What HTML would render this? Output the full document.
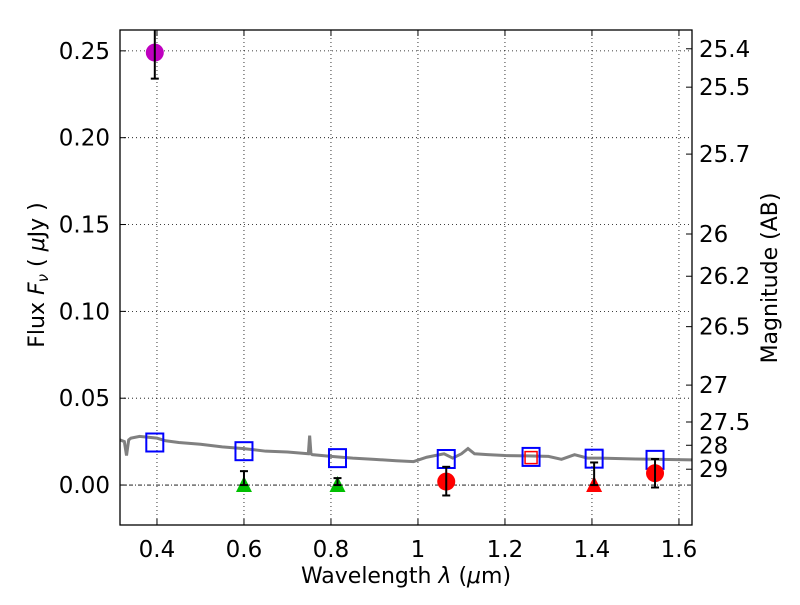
<!DOCTYPE html>
<html><head><meta charset="utf-8"><style>
body{margin:0;background:#fff;}
svg text{font-family:"DejaVu Sans","Liberation Sans",sans-serif;fill:#000;}
</style></head><body>
<svg id="chart" width="800" height="600" xmlns="http://www.w3.org/2000/svg">
<defs><clipPath id="pc"><rect x="120" y="30" width="572" height="495"/></clipPath></defs>
<rect width="800" height="600" fill="#fff"/>
<g id="grid"></g>
<g id="series" clip-path="url(#pc)"></g>
<g id="axes"></g>
<text x="406" y="583" font-size="22" text-anchor="middle">Wavelength  <tspan font-style="italic">λ</tspan> (<tspan font-style="italic">μ</tspan>m)</text>
<text transform="translate(44,275) rotate(-90)" font-size="22" text-anchor="middle">Flux  <tspan font-style="italic">F</tspan><tspan font-style="italic" font-size="15" dy="4">ν</tspan><tspan dy="-4">  ( </tspan><tspan font-style="italic">μ</tspan>Jy )</text>
<text transform="translate(777,278) rotate(-90)" font-size="22" text-anchor="middle">Magnitude (AB)</text>
</svg>
<script>
const xTicks=[0.4,0.6,0.8,1.0,1.2,1.4,1.6];
const xTickLabels=["0.4","0.6","0.8","1","1.2","1.4","1.6"];
const yTicks=[0,0.05,0.10,0.15,0.20,0.25];
const yTickLabels=["0.00","0.05","0.10","0.15","0.20","0.25"];
const magTicks=[25.4,25.5,25.7,26,26.2,26.5,27,27.5,28,29];
const magTickLabels=["25.4","25.5","25.7","26","26.2","26.5","27","27.5","28","29"];
const specWave=[0.315,0.325,0.33,0.335,0.34,0.36,0.38,0.40,0.42,0.45,0.5,0.55,0.6,0.65,0.7,0.748,0.751,0.754,0.757,0.8,0.85,0.9,0.95,0.99,1.02,1.04,1.06,1.08,1.1,1.115,1.13,1.16,1.2,1.25,1.3,1.33,1.36,1.39,1.42,1.5,1.56,1.63];
const specFlux=[0.026,0.025,0.017,0.026,0.027,0.028,0.0275,0.027,0.0255,0.0245,0.0235,0.022,0.021,0.0195,0.019,0.018,0.0285,0.018,0.0175,0.0165,0.0155,0.0148,0.014,0.0135,0.016,0.017,0.018,0.0155,0.018,0.021,0.018,0.0175,0.017,0.0168,0.0165,0.0148,0.0175,0.0155,0.0155,0.015,0.0148,0.0145];
const modelWave=[0.395,0.6,0.815,1.065,1.26,1.405,1.545];
const modelFlux=[0.0245,0.0195,0.0155,0.0150,0.0162,0.0152,0.0145];
const detWave=[0.395,1.065,1.545];
const detFlux=[0.249,0.002,0.0068];
const detErrLo=[0.015,0.008,0.0082];
const detErrHi=[0.015,0.0085,0.0082];
const detColors=["#bf00bf","#ff0000","#ff0000"];
const limWave=[0.6,0.815,1.405];
const limFlux=[0,0,0];
const limErr=[0.008,0.004,0.013];
const limColors=["#00bf00","#00bf00","#ff0000"];
const obsSqWave=[1.26];
const obsSqFlux=[0.0158];

const L=120,R=692,T=30,B=525,xmin=0.315,xmax=1.63,ymin=-0.023,ymax=0.262;
const xs=v=>L+(v-xmin)/(xmax-xmin)*(R-L);
const ys=v=>T+(ymax-v)/(ymax-ymin)*(B-T);
const NS="http://www.w3.org/2000/svg";
function mk(tag,attrs,parent){const e=document.createElementNS(NS,tag);for(const k in attrs)e.setAttribute(k,attrs[k]);parent.appendChild(e);return e;}
const grid=document.getElementById('grid'),ser=document.getElementById('series'),ax=document.getElementById('axes');
xTicks.forEach((v,i)=>{
 const g=mk('line',{x1:xs(v),x2:xs(v),y1:T,y2:B,stroke:'#000','stroke-width':0.8,'stroke-dasharray':'1,3'},grid);
 
 
 const t1=mk('line',{x1:xs(v),x2:xs(v),y1:B,y2:B-6,stroke:'#000'},ax);
 
 
 mk('line',{x1:xs(v),x2:xs(v),y1:T,y2:T+6,stroke:'#000'},ax);
 const t=mk('text',{x:xs(v),y:B+32,'font-size':23,'text-anchor':'middle'},ax);t.textContent=xTickLabels[i];
 
 
});
yTicks.forEach((v,i)=>{
 const g=mk('line',{x1:L,x2:R,y1:ys(v),y2:ys(v),stroke:'#000','stroke-width':0.8,'stroke-dasharray':v===0?'4,2,1,2':'1,3'},grid);
 
 
 mk('line',{x1:L,x2:L+6,y1:ys(v),y2:ys(v),stroke:'#000'},ax);
 const t=mk('text',{x:L-10,y:ys(v)+8,'font-size':23,'text-anchor':'end'},ax);t.textContent=yTickLabels[i];
 
 
});
magTicks.forEach((m,i)=>{
 const f=Math.pow(10,(23.9-m)/2.5);const y=ys(f);
 mk('line',{x1:R,x2:R-6,y1:y,y2:y,stroke:'#000'},ax);
 const t=mk('text',{x:R+7,y:y+8,'font-size':23},ax);t.textContent=magTickLabels[i];
 
 
});
const frame=mk('rect',{x:L,y:T,width:R-L,height:B-T,fill:'none',stroke:'#000','stroke-width':1.3},ax);


const sp=mk('polyline',{points:specWave.map((w,i)=>xs(w)+','+ys(specFlux[i])).join(' '),fill:'none',stroke:'#808080','stroke-width':3},ser);


modelWave.forEach((w,i)=>{
 const s=mk('rect',{x:xs(w)-8.5,y:ys(modelFlux[i])-9,width:17,height:18,fill:'none',stroke:'#0000ff','stroke-width':2},ser);
 
 
});
obsSqWave.forEach((w,i)=>{
 const s=mk('rect',{x:xs(w)-6,y:ys(obsSqFlux[i])-6,width:12,height:12,fill:'none',stroke:'#ff0000','stroke-width':1.5},ser);
 
 
});
function errbar(x,y1,y2){
 mk('line',{x1:x,x2:x,y1:y1,y2:y2,stroke:'#000','stroke-width':2},ser);
 mk('line',{x1:x-4,x2:x+4,y1:y1,y2:y1,stroke:'#000','stroke-width':2},ser);
 mk('line',{x1:x-4,x2:x+4,y1:y2,y2:y2,stroke:'#000','stroke-width':2},ser);
}
limWave.forEach((w,i)=>{
 const x=xs(w),y=ys(limFlux[i]);
 const p=mk('polygon',{points:`${x},${y-9} ${x-8},${y+7} ${x+8},${y+7}`,fill:limColors[i]},ser);
 
 
 errbar(x,ys(limFlux[i]+limErr[i]),y);
});
detWave.forEach((w,i)=>{
 const x=xs(w);
 const c=mk('circle',{cx:x,cy:ys(detFlux[i]),r:9,fill:detColors[i]},ser);
 
 
 errbar(x,ys(detFlux[i]+detErrHi[i]),ys(detFlux[i]-detErrLo[i]));
});
</script>
</body></html>
